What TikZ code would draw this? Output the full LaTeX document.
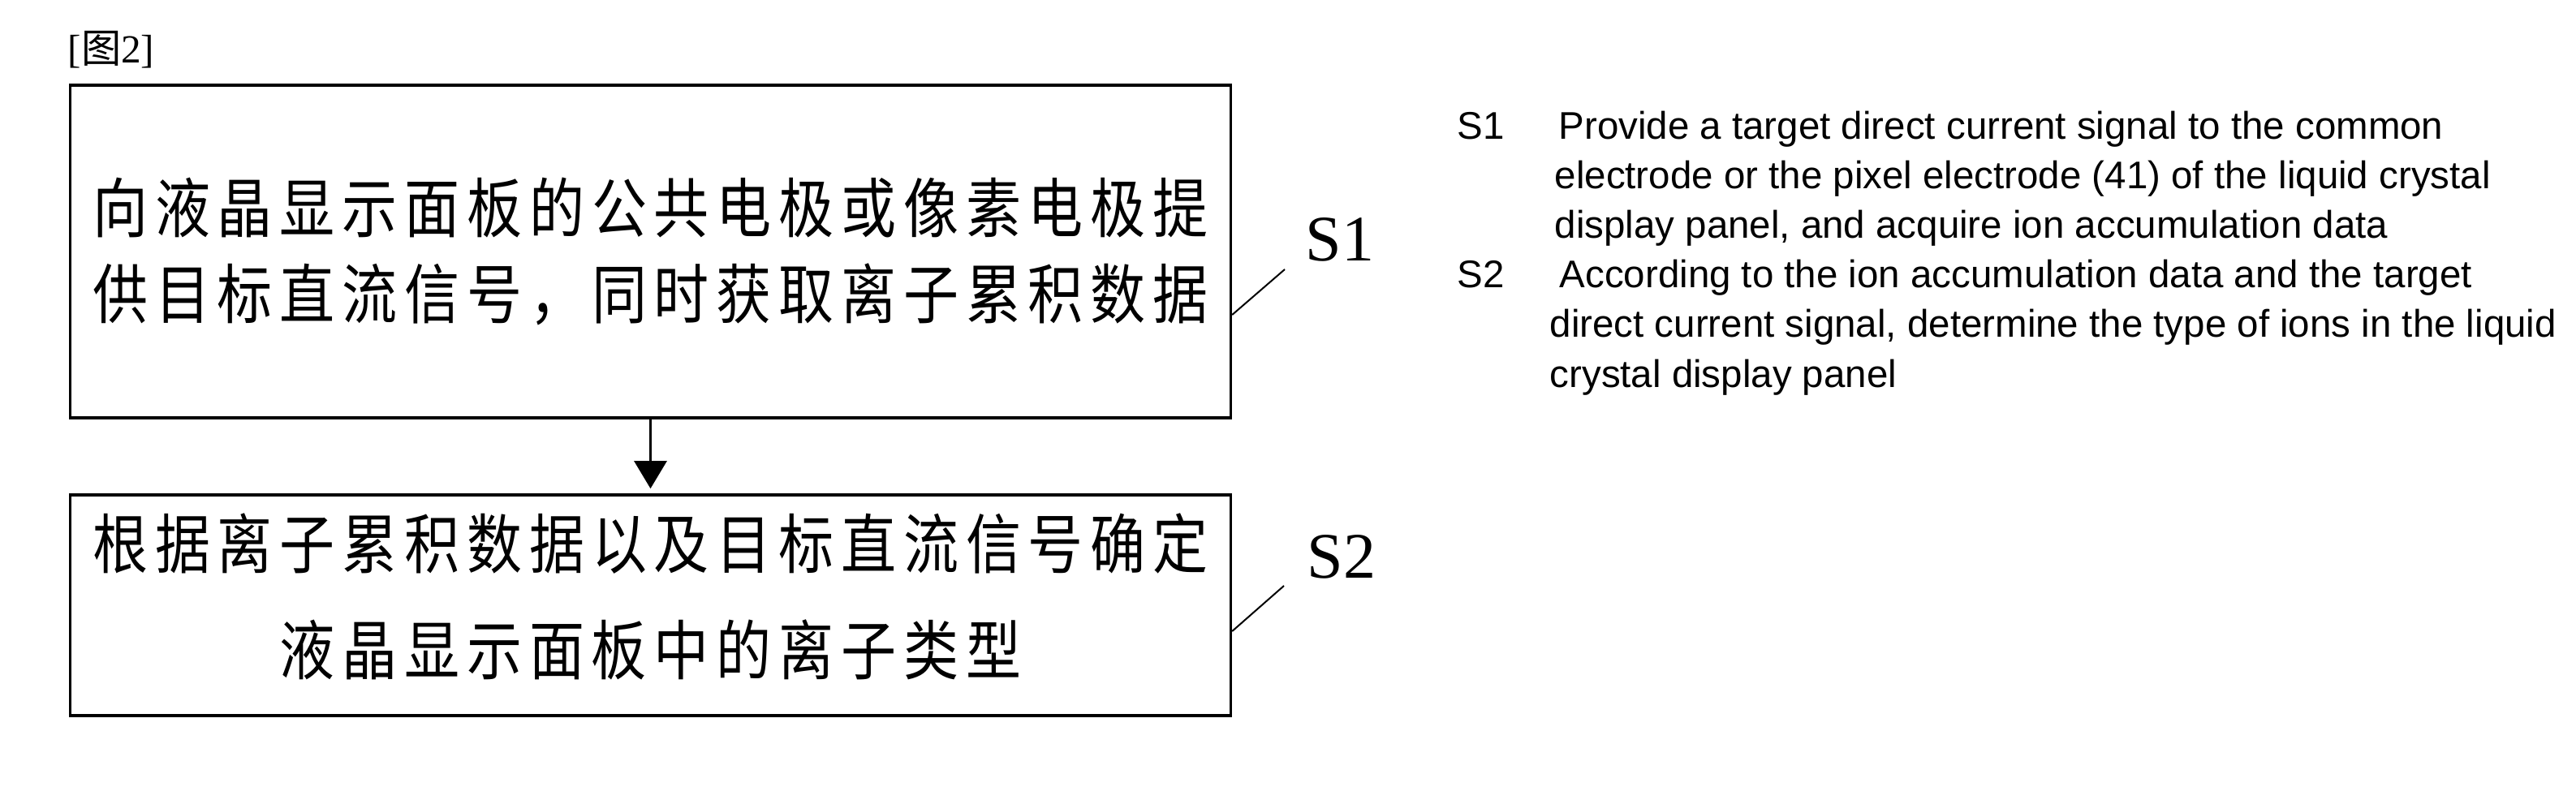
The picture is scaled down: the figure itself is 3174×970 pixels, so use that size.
\documentclass[tikz,border=0pt]{standalone}
\usepackage{fontspec}
\setmainfont{Liberation Serif}
\newfontfamily\cjk[FakeStretch=0.85,LetterSpace=11]{Noto Sans CJK SC}
\newfontfamily\cjkplain{Noto Sans CJK SC}
\newfontfamily\arial{Liberation Sans}
\usetikzlibrary{arrows.meta}

\tikzset{
  stepbox/.style={draw,line width=0.035cm,minimum width=14.29cm,inner sep=0pt,align=center},
  leader/.style={line width=0.02cm},
  steplabel/.style={font=\fontsize{22.76}{26}\selectfont,inner sep=0pt},
  notetext/.style={font=\arial\fontsize{13.5}{17.36}\selectfont,inner sep=0pt,anchor=base west,align=left}
}

\begin{document}
\begin{tikzpicture}[x=0.01cm,y=-0.01cm]
  \useasboundingbox (0,0) rectangle (3174,970);
  % figure number
  \node[inner sep=0pt,anchor=base west,font=\fontsize{14}{16}\selectfont] (fignum) at (83,78) {[{\cjkplain 图}2]};
  % the two steps
  \node[stepbox,minimum height=4.10cm,font=\cjk\fontsize{22.76}{30.16}\selectfont] (box1) at (801.5,310)
    {向液晶显示面板的公共电极或像素电极提\\供目标直流信号，同时获取离子累积数据};
  \node[stepbox,minimum height=2.72cm,text depth=0.28cm,font=\cjk\fontsize{22.76}{37.27}\selectfont] (box2) at (801.5,746)
    {根据离子累积数据以及目标直流信号确定\\液晶显示面板中的离子类型};
  \draw[line width=0.03cm,-{Triangle[width=0.4cm,length=0.34cm]},shorten >=0.06cm] (box1) -- (box2);
  % step labels with leaders
  \node[steplabel] (s1) at (1651,295) {S1};
  \node[steplabel] (s2) at (1653,686) {S2};
  \coordinate (l1) at (1583,332);
  \coordinate (l2) at (1582,722);
  \draw[leader] ([yshift=-0.78cm]box1.east) -- (l1);
  \draw[leader] ([yshift=-0.32cm]box2.east) -- (l2);
  % english notes (base = last line)
  \node[notetext] (n1) at (1795,172) {S1};
  \node[notetext] (t1) at (1915,294) {\kern0.05cm Provide a target direct current signal to the common\\electrode or the pixel electrode (41) of the liquid crystal\\display panel, and acquire ion accumulation data};
  \node[notetext] (n2) at (1795,355) {S2};
  \node[notetext] (t2) at (1909,477) {\kern0.12cm According to the ion accumulation data and the target\\direct current signal, determine the type of ions in the liquid\\crystal display panel};
\end{tikzpicture}
\end{document}
